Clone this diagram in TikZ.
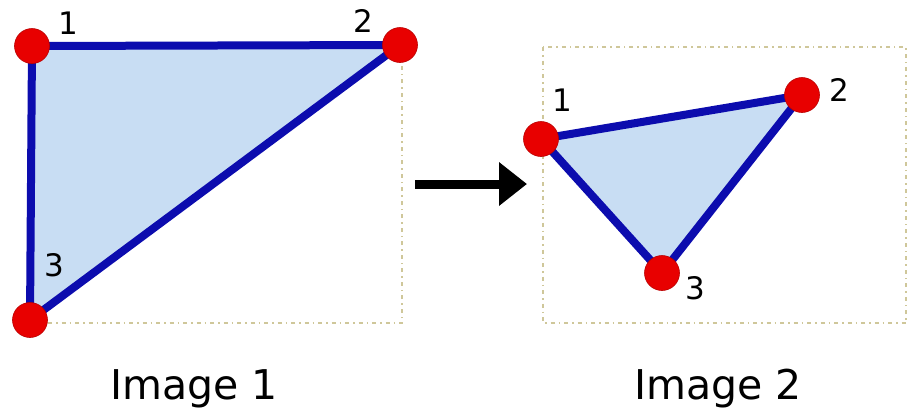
\documentclass[tikz,border=0pt]{standalone}
\usepackage{fontspec}
\setmainfont{DejaVu Sans}
\usetikzlibrary{arrows.meta}
\definecolor{edgeblue}{HTML}{0C0CAE}
\definecolor{fillblue}{HTML}{C8DDF3}
\definecolor{dotred}{HTML}{E80000}
\definecolor{framec}{HTML}{CFC79A}
\tikzset{
  vertex/.style={circle,fill=dotred,draw=dotred!80!black,line width=0.6pt,minimum size=35pt,inner sep=0pt},
  edge/.style={draw=edgeblue,line width=8pt,line join=round,line cap=round},
  tri/.style={fill=fillblue},
  frame/.style={draw=framec,line width=1.8pt,dash pattern=on 4pt off 4pt on 1.5pt off 4pt},
  num/.style={font=\fontsize{31}{31}\selectfont,inner sep=0pt},
  caption/.style={font=\fontsize{41}{41}\selectfont,inner sep=0pt,anchor=base},
  bigarrow/.style={line width=9pt,-{Triangle[length=28pt,width=42pt]}}
}
\begin{document}
\begin{tikzpicture}[x=1pt,y=-1pt]
\useasboundingbox (0,0) rectangle (911,408);
% frames
\draw[frame] (48,323) -- (402,323) -- (402,65);
\draw[frame] (543,47) rectangle (906,323);
% image 1
\coordinate (a1) at (32,46);
\coordinate (a2) at (400,45);
\coordinate (a3) at (30,320);
\fill[tri] (a1) -- (a2) -- (a3) -- cycle;
\draw[edge] (a1) -- (a2) -- (a3) -- cycle;
\node[vertex] (v1) at (a1) {};
\node[vertex] (v2) at (a2) {};
\node[vertex] (v3) at (a3) {};
\node[num] (l1) at (68,23) {1};
\node[num] (l2) at (363,21) {2};
\node[num] (l3) at (54,265) {3};
% image 2
\coordinate (b1) at (541,139);
\coordinate (b2) at (802,95);
\coordinate (b3) at (662,273);
\fill[tri] (b1) -- (b2) -- (b3) -- cycle;
\draw[edge] (b1) -- (b2) -- (b3) -- cycle;
\node[vertex] (w1) at (b1) {};
\node[vertex] (w2) at (b2) {};
\node[vertex] (w3) at (b3) {};
\node[num] (m1) at (562,100) {1};
\node[num] (m2) at (839,90) {2};
\node[num] (m3) at (695,288) {3};
% arrow
\coordinate (s) at (415,184);
\coordinate (e) at (527,184);
\draw[bigarrow] (s) -- (e);
% captions
\node[caption] (c1) at (194,399) {Image 1};
\node[caption] (c2) at (718,399) {Image 2};
\end{tikzpicture}
\end{document}
